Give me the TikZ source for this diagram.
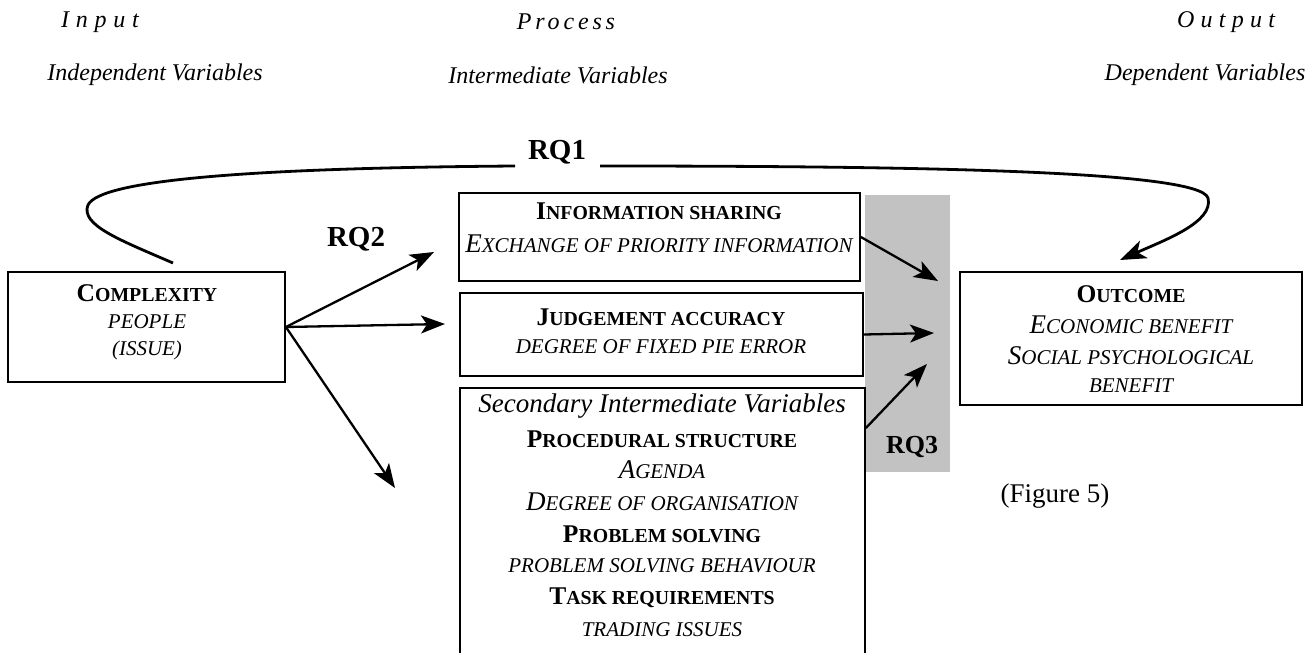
\documentclass[tikz,border=0pt]{standalone}
\usepackage{fontspec}
\setmainfont{Liberation Serif}
\usetikzlibrary{arrows.meta}

% sizes for the faked small capitals (bold and italic)
\newcommand\bbig{\fontsize{25.5}{30}\selectfont}
\newcommand\bsml{\fontsize{19.8}{30}\selectfont}
\newcommand\ibig{\fontsize{27}{32}\selectfont}
\newcommand\isml{\fontsize{21}{32}\selectfont}
\newcommand\bsc[2]{{\bfseries\bbig #1\bsml #2}}
\newcommand\isc[2]{{\itshape\ibig #1\isml #2}}
\newcommand\headfont{\fontsize{24}{28}\selectfont\itshape}
\newcommand\spaced[2]{\addfontfeature{LetterSpace=#1}#2}

\tikzset{
  varbox/.style={draw, line width=1.8pt, rectangle, inner sep=0pt},
  txt/.style={inner sep=0pt, align=center},
  rqlabel/.style={inner sep=0pt, font=\fontsize{29}{34}\selectfont\bfseries},
  link/.style={line width=2.3pt, -{Stealth[length=24pt,width=18pt,inset=6pt]}},
  arc/.style={line width=2.8pt}
}

\begin{document}
\begin{tikzpicture}[x=1pt,y=-1pt]
\useasboundingbox (0,0) rectangle (1312,653);
\clip (0,0) rectangle (1312,653);

% column headings
\node[txt, font=\headfont] (hin)  at (100,22)  {\spaced{28}{Input}};
\node[txt, font=\headfont] (hpro) at (566,22)  {\spaced{16}{Process}};
\node[txt, font=\headfont] (hout) at (1226,22) {\spaced{26}{Output}};
\node[txt, font=\headfont] (vin)  at (155,75)  {Independent Variables};
\node[txt, font=\headfont] (vpro) at (558,75)  {Intermediate Variables};
\node[txt, font=\headfont] (vout) at (1205,75) {Dependent Variables};

% shaded band behind the RQ3 links
\node[fill=black!24, minimum width=85pt, minimum height=277pt, inner sep=0pt] (band) at (907.5,333.5) {};
\node[rqlabel, font=\fontsize{26}{30}\selectfont\bfseries] (rq3) at (912,447) {RQ3};

% boxes
\node[varbox, minimum width=277pt, minimum height=110pt] (cplx) at (146.5,327) {};
\node[varbox, minimum width=401pt, minimum height=88pt]  (info) at (659.5,237) {};
\node[varbox, minimum width=403pt, minimum height=83pt]  (judg) at (661.5,334.5) {};
\node[varbox, minimum width=405pt, minimum height=320pt] (sec)  at (662.5,548) {};
\node[varbox, minimum width=342pt, minimum height=133pt] (outc) at (1131,338.5) {};

% box texts
\node[txt] (t1) at (147,293) {\bsc{C}{OMPLEXITY}};
\node[txt] (t2) at (147,322) {\isc{}{PEOPLE}};
\node[txt] (t3) at (147,350) {\isc{}{(ISSUE)}};

\node[txt] (i1) at (659,211) {\bsc{I}{NFORMATION SHARING}};
\node[txt] (i2) at (659,244) {\isc{E}{XCHANGE OF PRIORITY INFORMATION}};

\node[txt] (j1) at (661,317) {\bsc{J}{UDGEMENT ACCURACY}};
\node[txt] (j2) at (661,347) {\isc{}{DEGREE OF FIXED PIE ERROR}};

\node[txt] (s1) at (662,406) {\ibig\itshape Secondary Intermediate Variables};
\node[txt] (s2) at (662,439) {\bsc{P}{ROCEDURAL STRUCTURE}};
\node[txt] (s3) at (662,470) {\isc{A}{GENDA}};
\node[txt] (s4) at (662,502) {\isc{D}{EGREE OF ORGANISATION}};
\node[txt] (s5) at (662,534) {\bsc{P}{ROBLEM SOLVING}};
\node[txt] (s6) at (662,566) {\isc{}{PROBLEM SOLVING BEHAVIOUR}};
\node[txt] (s7) at (662,598) {\bsc{T}{ASK REQUIREMENTS}};
\node[txt] (s8) at (662,630) {\isc{}{TRADING ISSUES}};

\node[txt] (o1) at (1131,294) {\bsc{O}{UTCOME}};
\node[txt] (o2) at (1131,325) {\isc{E}{CONOMIC BENEFIT}};
\node[txt] (o3) at (1131,356) {\isc{S}{OCIAL PSYCHOLOGICAL}};
\node[txt] (o4) at (1131,386) {\isc{}{BENEFIT}};

\node[txt, font=\fontsize{27}{31}\selectfont] (fig) at (1055,496) {(Figure 5)};

% RQ1: loop from the input box over the process column to the outcome box
\node[rqlabel] (rq1) at (557,152) {RQ1};
\coordinate (lstart) at (173,263);
\coordinate (lend)   at (515,166);
\coordinate (rstart) at (600,166);
\coordinate (rend)   at (1120,260);
\draw[arc] (lstart) .. controls (120,240) and (80,225) .. (88,205)
                    .. controls (100,180) and (250,168) .. (lend);
\draw[arc, -{Stealth[length=26pt,width=19pt,inset=7pt]}]
      (rstart) .. controls (900,166) and (1200,170) .. (1208,198)
               .. controls (1214,222) and (1165,240) .. (rend);

% RQ2: from complexity to the intermediate variables
\node[rqlabel] (rq2) at (356,239) {RQ2};
\coordinate (a1) at (434,252);
\coordinate (a2) at (445,324);
\coordinate (a3) at (395,488);
\draw[link] (cplx.east) -- (a1);
\draw[link] (cplx.east) -- (a2);
\draw[link] (cplx.east) -- (a3);

% RQ3: intermediate variables to outcome
\coordinate (b1) at (938,281);
\coordinate (b2) at (934,333);
\coordinate (b3) at (927,364);
\draw[link] (info.east |- 0,237) -- (b1);
\draw[link] (judg.east) -- (b2);
\draw[link] (sec.east |- 0,428) -- (b3);
\end{tikzpicture}
\end{document}
